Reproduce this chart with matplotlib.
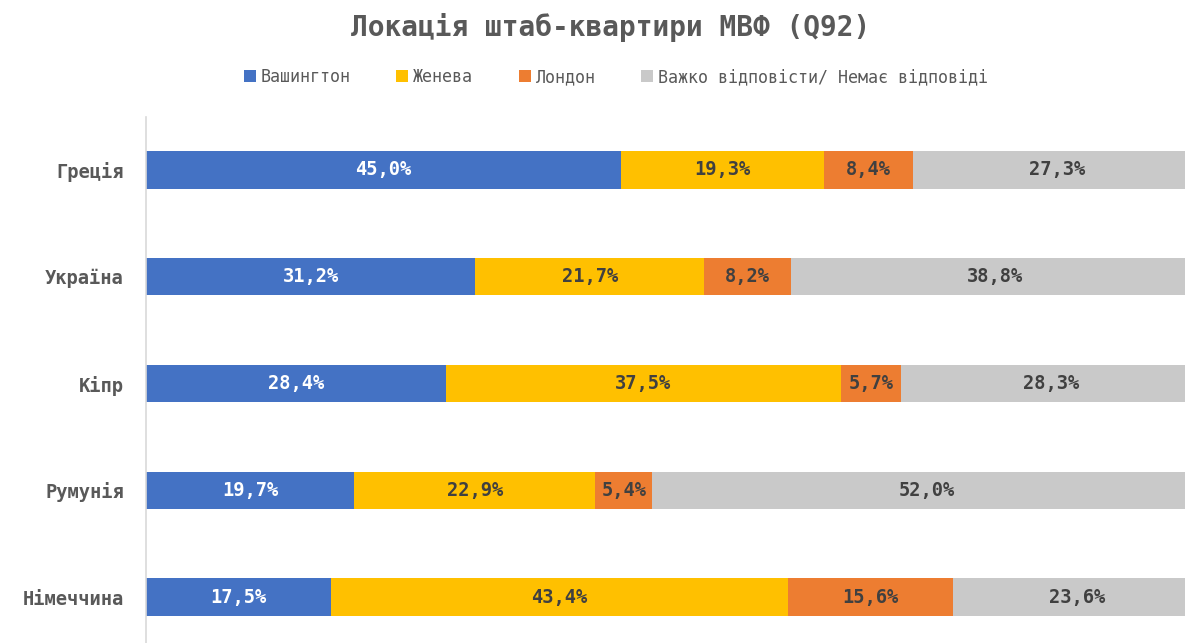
import matplotlib
matplotlib.use("Agg")
import matplotlib.pyplot as plt
from matplotlib.patches import Patch

plt.rcParams['font.family'] = ['DejaVu Sans Mono']

categories = ["Греція", "Україна", "Кіпр", "Румунія", "Німеччина"]
series_names = ["Вашингтон", "Женева", "Лондон", "Важко відповісти/ Немає відповіді"]
washington = [45.0, 31.2, 28.4, 19.7, 17.5]
geneva = [19.3, 21.7, 37.5, 22.9, 43.4]
london = [8.4, 8.2, 5.7, 5.4, 15.6]
hard = [27.3, 38.8, 28.3, 52.0, 23.6]

colors = ["#4472C4", "#FFC000", "#ED7D31", "#C9C9C9"]
text_colors = ["white", "#404040", "#404040", "#404040"]

W, H = 1185, 643
fig = plt.figure(figsize=(W / 100, H / 100), dpi=100)
left = 146 / W
width = 1055 / W
top_px = 116.6
bot_px = 650.4
ax = fig.add_axes([left, 1 - bot_px / H, width, (bot_px - top_px) / H])

series = [washington, geneva, london, hard]
ypos = list(range(len(categories)))
lefts = [0.0] * len(categories)
for s, vals in enumerate(series):
    ax.barh(ypos, vals, left=lefts, height=0.35, color=colors[s], edgecolor='none')
    for i, v in enumerate(vals):
        ax.text(lefts[i] + v / 2, ypos[i], f"{v:.1f}%".replace('.', ','),
                ha='center', va='center', fontsize=13.5, fontweight='bold',
                color=text_colors[s])
    lefts = [l + v for l, v in zip(lefts, vals)]

ax.set_xlim(0, 100)
ax.set_ylim(len(categories) - 0.5, -0.5)
ax.set_yticks(ypos)
ax.set_yticklabels(categories, fontsize=13.5, fontweight='bold', color='#595959')
ax.tick_params(axis='y', length=0, pad=16)
ax.set_xticks([])
for sp in ['top', 'right', 'bottom']:
    ax.spines[sp].set_visible(False)
ax.spines['left'].set_color('#D9D9D9')
ax.spines['left'].set_linewidth(1.2)

fig.text(611 / W, 1 - 27 / H, "Локація штаб-квартири МВФ (Q92)", ha='center', va='center',
         fontsize=20, fontweight='bold', color='#595959')

handles = [Patch(facecolor=c, edgecolor='none') for c in colors]
fig.legend(handles, series_names, loc='center', bbox_to_anchor=(616 / W, 1 - 77 / H),
           ncol=4, frameon=False, fontsize=12, handlelength=0.7, handleheight=0.7,
           handletextpad=0.3, columnspacing=2.75, labelcolor='#595959')

fig.savefig("out.png", dpi=100)
